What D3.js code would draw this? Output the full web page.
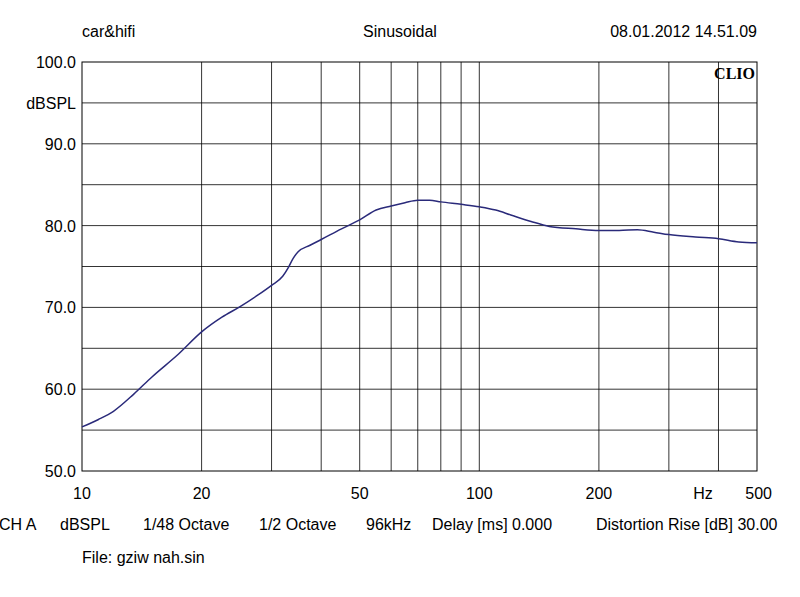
<!DOCTYPE html>
<html><head><meta charset="utf-8">
<script src="https://cdn.jsdelivr.net/npm/d3@7"></script>
<style>body{margin:0;background:#fff}text{font-family:"Liberation Sans",Arial,sans-serif}</style>
</head><body><svg id="c" width="800" height="597"></svg>
<script>
const freqs=[10,11,12,13.5,15,17.5,20,22.5,25,27.5,30,32,33,34,35,37.5,40,45,50,55,60,65,70,75,80,90,100,110,120,135,150,175,200,225,250,275,300,350,400,450,500];
const spl=[55.4,56.3,57.3,59.4,61.5,64.3,67.0,68.8,70.1,71.4,72.7,73.8,74.8,76.0,76.8,77.6,78.3,79.6,80.7,81.9,82.4,82.8,83.1,83.1,82.9,82.6,82.3,81.9,81.3,80.5,79.9,79.6,79.4,79.4,79.5,79.2,78.9,78.6,78.4,78.0,77.9];
const xTicks=[10,20,50,100,200,500];
const xGrid=[20,30,40,50,60,70,80,90,100,200,300,400];
const yTicks=[50,60,70,80,90,100];
const yGrid=[55,60,65,70,75,80,85,90,95];
const footer=[["CH A",-1],["dBSPL",60],["1/48 Octave",143],["1/2 Octave",259],["96kHz",366],["Delay [ms] 0.000",432],["Distortion Rise [dB] 30.00",596]];
const svg=d3.select("#c");
const x=d3.scaleLog().domain([10,500]).range([82,757]);
const y=d3.scaleLinear().domain([50,100]).range([471,62]);
const g=svg.append("g");
g.selectAll(".vg").data(xGrid).join("line").attr("x1",d=>x(d)).attr("x2",d=>x(d)).attr("y1",62).attr("y2",471).attr("stroke","#000").attr("stroke-width",0.8);
g.selectAll(".hg").data(yGrid).join("line").attr("x1",82).attr("x2",757).attr("y1",d=>y(d)).attr("y2",d=>y(d)).attr("stroke","#000").attr("stroke-width",0.8);
g.append("rect").attr("x",82).attr("y",62).attr("width",675).attr("height",409).attr("fill","none").attr("stroke","#000").attr("stroke-width",1);
const line=d3.line().x((d,i)=>x(freqs[i])).y(d=>y(d)).curve(d3.curveMonotoneX);
g.append("path").attr("d",line(spl)).attr("fill","none").attr("stroke","#2a2a7a").attr("stroke-width",1.5);
const fs=16;
svg.selectAll(".yt").data(yTicks).join("text").attr("x",76).attr("y",d=>y(d)+6).attr("text-anchor","end").attr("font-size",fs).text(d=>d.toFixed(1));
svg.append("text").attr("x",76).attr("y",109).attr("text-anchor","end").attr("font-size",fs).text("dBSPL");
svg.selectAll(".xt").data(xTicks).join("text").attr("x",d=>x(d)).attr("y",499).attr("text-anchor",d=>d===500?"end":"middle").attr("dx",d=>d===500?15:0).attr("font-size",fs).text(d=>d);
svg.append("text").attr("x",703).attr("y",499).attr("text-anchor","middle").attr("font-size",fs).text("Hz");
svg.append("text").attr("x",82).attr("y",37).attr("font-size",fs).text("car&hifi");
svg.append("text").attr("x",400).attr("y",37).attr("text-anchor","middle").attr("font-size",fs).text("Sinusoidal");
svg.append("text").attr("x",757).attr("y",37).attr("text-anchor","end").attr("font-size",fs).text("08.01.2012 14.51.09");
svg.append("text").attr("x",755).attr("y",79).attr("text-anchor","end").attr("font-size",16).attr("font-weight","bold").style("font-family","Liberation Serif,serif").text("CLIO");
svg.selectAll(".ft").data(footer).join("text").attr("x",d=>d[1]).attr("y",530).attr("font-size",fs).text(d=>d[0]);
svg.append("text").attr("x",82).attr("y",563).attr("font-size",fs).text("File: gziw nah.sin");
</script></body></html>
